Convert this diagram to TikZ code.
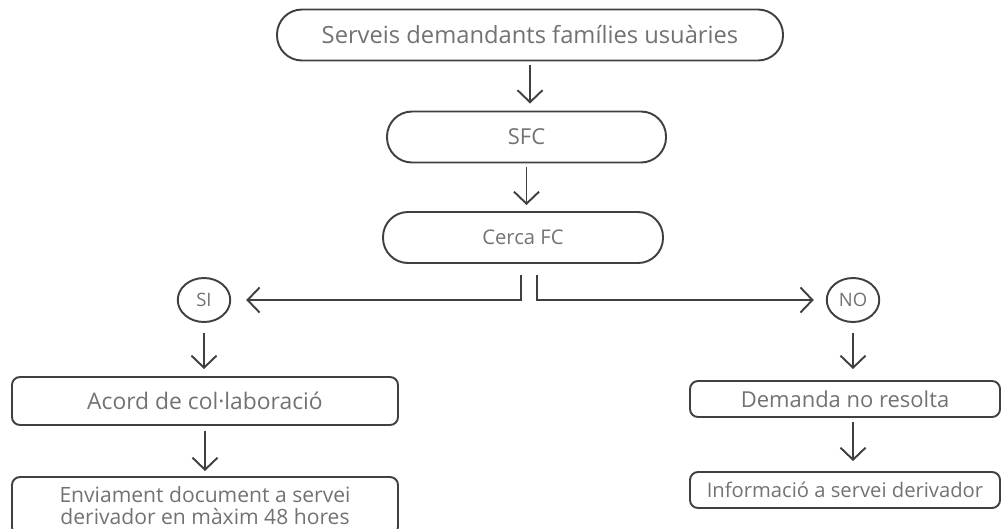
\documentclass[tikz,border=0pt]{standalone}
\usepackage{fontspec}
\setmainfont{Open Sans}
\usetikzlibrary{arrows.meta, shapes}
\definecolor{linegray}{HTML}{404040}
\definecolor{textgray}{HTML}{727272}

\begin{document}
\begin{tikzpicture}
    \tikzstyle{every node} = [text=textgray, align=center, inner sep=0pt]
    \tikzstyle{pill} = [draw=linegray, line width=1.1pt, rounded corners=0.5cm, minimum height=1.02cm]
    \tikzstyle{box} = [draw=linegray, line width=1.1pt, rounded corners=0.16cm]
    \tikzstyle{circ} = [draw=linegray, line width=1.1pt, shape=ellipse, minimum width=1.05cm, minimum height=0.88cm, font=\fontsize{10.5}{12}\selectfont]
    \tikzstyle{arr} = [draw=linegray, line width=1.1pt, -{Straight Barb[length=2.4mm, width=5mm]}]
    \useasboundingbox (0, 0) rectangle (20.16, -10.56);
    \node [pill, minimum width=10.12cm, font=\fontsize{13.5}{16}\selectfont] (serveis) at (10.6, -0.7) {Serveis demandants famílies usuàries};
    \node [pill, minimum width=5.58cm, font=\fontsize{12.5}{15}\selectfont] (sfc) at (10.53, -2.74) {SFC};
    \node [pill, minimum width=5.6cm, font=\fontsize{11.5}{14}\selectfont] (cerca) at (10.46, -4.75) {Cerca FC};
    \node [circ] (si) at (4.08, -6.0) {SI};
    \node [circ] (no) at (17.06, -6.0) {NO};
    \node [box, minimum width=7.72cm, minimum height=0.96cm, font=\fontsize{13}{15}\selectfont] (acord) at (4.1, -8.02) {Acord de col·laboració};
    \node [box, minimum width=7.72cm, minimum height=1.16cm, font=\fontsize{12}{12.5}\selectfont] (enviament) at (4.1, -10.12) {Enviament document a servei\\derivador en màxim 48 hores};
    \node [box, minimum width=6.2cm, minimum height=0.72cm, font=\fontsize{12.5}{15}\selectfont] (demanda) at (16.9, -7.98) {Demanda no resolta};
    \node [box, minimum width=6.2cm, minimum height=0.72cm, font=\fontsize{11.5}{14}\selectfont] (informacio) at (16.9, -9.8) {Informació a servei derivador};
    \draw [arr, shorten <=0.08cm, shorten >=0.14cm] (serveis.south) -- (serveis.south |- sfc.north);
    \draw [arr, shorten <=0.08cm, shorten >=0.12cm] (sfc.south) -- (sfc.south |- cerca.north);
    \draw [arr, shorten >=0.3cm] ([xshift=-0.04cm, yshift=-0.22cm]cerca.south) |- (si);
    \draw [arr, shorten >=0.24cm] ([xshift=0.28cm, yshift=-0.22cm]cerca.south) |- (no);
    \draw [arr, shorten <=0.2cm, shorten >=0.14cm] (si.south) -- (si.south |- acord.north);
    \draw [arr, shorten <=0.1cm, shorten >=0.1cm] (acord.south) -- (acord.south |- enviament.north);
    \draw [arr, shorten <=0.2cm, shorten >=0.22cm] (no.south) -- (no.south |- demanda.north);
    \draw [arr, shorten <=0.08cm, shorten >=0.2cm] (no.south |- demanda.south) -- (no.south |- informacio.north);
\end{tikzpicture}
\end{document}
